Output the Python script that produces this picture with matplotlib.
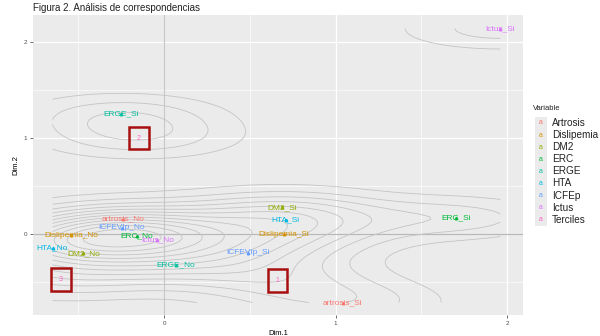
import numpy as np
import matplotlib
matplotlib.use("Agg")
import matplotlib.pyplot as plt
from matplotlib.patches import Rectangle

plt.rcParams['font.family'] = ['Liberation Sans', 'DejaVu Sans']

# category coordinates
variables = ['Artrosis', 'Dislipemia', 'DM2', 'ERC', 'ERGE', 'HTA', 'ICFEp', 'Ictus', 'Terciles']
colors = ['#F8766D', '#D39200', '#93AA00', '#00BA38', '#00C19F',
          '#00B9E3', '#619CFF', '#DB72FB', '#FF61C3']

labels = ['artrosis_No', 'artrosis_Si', 'Dislipemia_No', 'Dislipemia_Si',
          'DM2_No', 'DM2_Si', 'ERC_No', 'ERC_Si', 'ERGE_No', 'ERGE_Si',
          'HTA_No', 'HTA_Si', 'ICFEVIp_No', 'ICFEVIp_Si', 'Ictus_No', 'Ictus_Si',
          '1', '2', '3']
groups = [0, 0, 1, 1, 2, 2, 3, 3, 4, 4, 5, 5, 6, 6, 7, 7, 8, 8, 8]
dim1 = [-0.24, 1.04, -0.54, 0.70, -0.47, 0.69, -0.16, 1.70, 0.07, -0.25,
        -0.65, 0.71, -0.245, 0.49, -0.04, 1.96, 0.66, -0.146, -0.60]
dim2 = [0.16, -0.71, -0.01, 0.00, -0.20, 0.28, -0.02, 0.17, -0.32, 1.25,
        -0.14, 0.15, 0.07, -0.19, -0.06, 2.14, -0.48, 1.00, -0.47]

x = np.array(dim1)
y = np.array(dim2)


def bw_nrd(v):
    q1, q3 = np.percentile(v, [25, 75])
    h = (q3 - q1) / 1.34
    return 4 * 1.06 * min(np.std(v, ddof=1), h) * len(v) ** (-0.2)


def kde2d(x, y, n=100):
    hx = bw_nrd(x) / 4
    hy = bw_nrd(y) / 4
    gx = np.linspace(x.min(), x.max(), n)
    gy = np.linspace(y.min(), y.max(), n)
    ax_ = (gx[:, None] - x[None, :]) / hx
    ay_ = (gy[:, None] - y[None, :]) / hy
    dx = np.exp(-0.5 * ax_ ** 2) / np.sqrt(2 * np.pi)
    dy = np.exp(-0.5 * ay_ ** 2) / np.sqrt(2 * np.pi)
    z = dx @ dy.T / (len(x) * hx * hy)
    return gx, gy, z


fig = plt.figure(figsize=(6, 3.36), dpi=100)
ax = fig.add_axes([0.055, 0.0625, 0.817, 0.8925])
ax.set_facecolor('#EBEBEB')

ax.set_xlim(-0.764, 2.093)
ax.set_ylim(-0.84, 2.28)
ax.set_xticks([0, 1, 2])
ax.set_yticks([0, 1, 2])
ax.set_xticks([-0.5, 0.5, 1.5], minor=True)
ax.set_yticks([-0.5, 0.5, 1.5], minor=True)
ax.grid(which='major', color='white', lw=0.9)
ax.grid(which='minor', color='white', lw=0.45)
ax.set_axisbelow(True)
for s in ax.spines.values():
    s.set_visible(False)
ax.tick_params(which='major', length=2, width=0.5, color='#333333',
               labelsize=4.5, labelcolor='#4d4d4d', pad=2)
ax.tick_params(which='minor', length=0)

ax.axhline(0, color='#b8b8b8', lw=0.9, zorder=1)
ax.axvline(0, color='#c8c8c8', lw=0.9, zorder=1)

gx, gy, z = kde2d(x, y)
levels = np.linspace(0, z.max(), 14)[1:-1]
ax.contour(gx, gy, z.T, levels=levels, colors='#c4c4c4', linewidths=0.6, zorder=2)

for lab, g, px, py in zip(labels, groups, dim1, dim2):
    c = colors[g]
    if g == 8:
        ax.text(px, py, lab, color=c, fontsize=5, ha='center', va='center', zorder=4,
                bbox=dict(boxstyle='square,pad=1.1', fc='none', ec='#A81010', lw=1.8))
    else:
        ax.plot(px, py, marker='^', ms=1.8, color=c, zorder=3)
        ax.text(px, py, lab, color=c, fontsize=6, ha='center', va='center', zorder=4)

ax.set_xlabel('Dim.1', fontsize=5.5, labelpad=3)
ax.set_ylabel('Dim.2', fontsize=5.5, labelpad=3)

fig.text(0.055, 0.99, 'Figura 2. Análisis de correspondencias', fontsize=7,
         ha='left', va='top', color='#222222')

# legend
fig.text(0.888, 0.678, 'Variable', fontsize=5.5, ha='left', va='center', color='#222222')
for i, (v, c) in enumerate(zip(variables, colors)):
    yc = 0.634 - i * 0.036
    fig.patches.append(Rectangle((0.891, yc - 0.018), 0.02, 0.036,
                                 transform=fig.transFigure, fc='#EBEBEB', ec='none'))
    fig.text(0.901, yc, 'a', color=c, fontsize=5, ha='center', va='center')
    fig.text(0.92, yc, v, color='#222222', fontsize=7.2, ha='left', va='center')

fig.savefig('out.png', dpi=100)
